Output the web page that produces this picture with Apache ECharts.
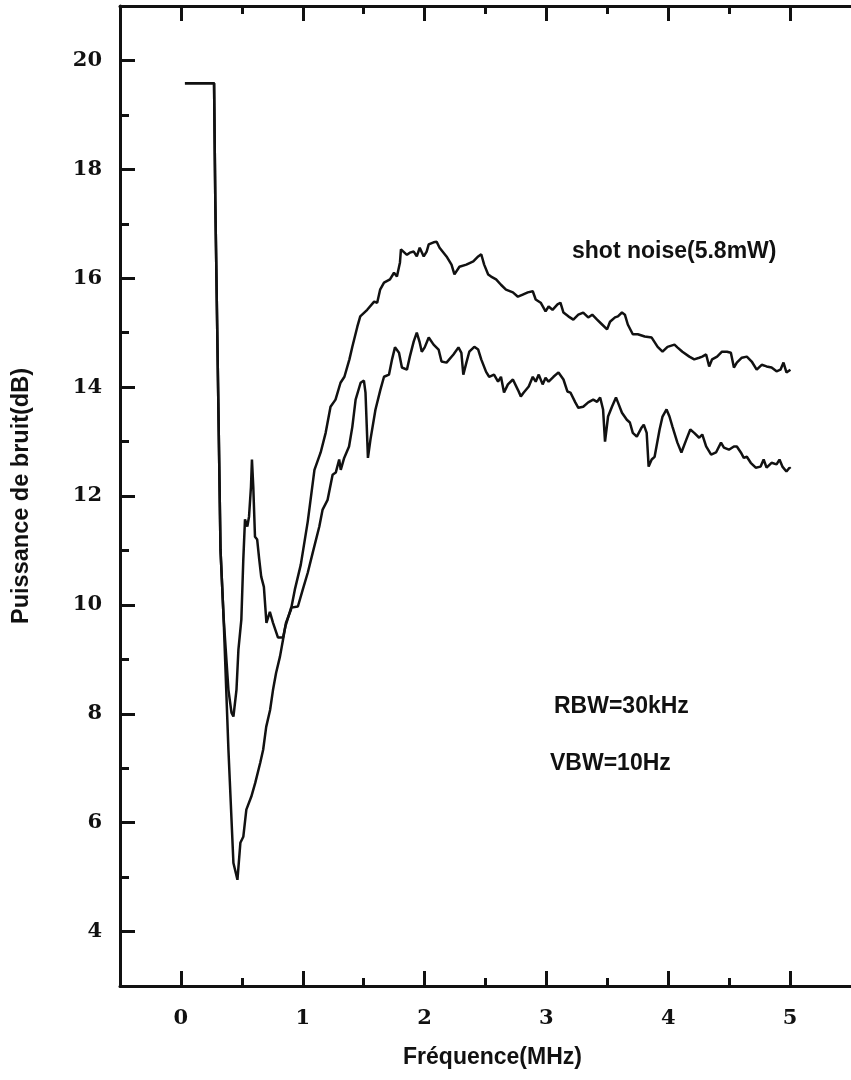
<!DOCTYPE html>
<html>
<head>
<meta charset="utf-8">
<script src="https://cdn.jsdelivr.net/npm/echarts@6/dist/echarts.min.js"></script>
<style>
  html, body { margin: 0; padding: 0; background: #fff; }
  #chart { width: 851px; height: 1080px; }
</style>
</head>
<body>
<div id="chart"></div>
<script>
// Tick positions
const xMajorTicks = [0, 1, 2, 3, 4, 5];
const xMinorTicks = [0.5, 1.5, 2.5, 3.5, 4.5];
const yMajorTicks = [4, 6, 8, 10, 12, 14, 16, 18, 20];
const yMinorTicks = [5, 7, 9, 11, 13, 15, 17, 19];

// Shot noise reference trace (MHz, dB)
const shotFreq = [0.033, 0.272, 0.282, 0.325, 0.350, 0.390, 0.431, 0.464, 0.488, 0.512, 0.537, 0.578, 0.610, 0.651, 0.675, 0.700, 0.732, 0.756, 0.781, 0.813, 0.838, 0.862, 0.903, 0.935, 0.984, 1.041, 1.096, 1.147, 1.188, 1.228, 1.269, 1.310, 1.342, 1.383, 1.407, 1.448, 1.472, 1.529, 1.586, 1.611, 1.635, 1.667, 1.716, 1.749, 1.773, 1.798, 1.806, 1.855, 1.879, 1.911, 1.936, 1.960, 1.993, 2.017, 2.034, 2.074, 2.099, 2.123, 2.180, 2.221, 2.245, 2.286, 2.343, 2.400, 2.440, 2.465, 2.489, 2.522, 2.546, 2.587, 2.627, 2.668, 2.725, 2.766, 2.806, 2.847, 2.888, 2.912, 2.953, 2.993, 3.018, 3.050, 3.091, 3.115, 3.140, 3.180, 3.221, 3.262, 3.302, 3.343, 3.376, 3.416, 3.457, 3.498, 3.522, 3.563, 3.587, 3.620, 3.644, 3.668, 3.709, 3.750, 3.807, 3.864, 3.913, 3.953, 3.994, 4.051, 4.075, 4.116, 4.173, 4.213, 4.254, 4.279, 4.311, 4.336, 4.360, 4.401, 4.441, 4.482, 4.514, 4.539, 4.563, 4.604, 4.645, 4.685, 4.726, 4.767, 4.807, 4.848, 4.889, 4.921, 4.946, 4.970, 5.003];
const shotLevel = [19.58, 19.58, 17.45, 11.01, 9.78, 7.34, 5.26, 4.95, 5.63, 5.74, 6.24, 6.48, 6.73, 7.10, 7.34, 7.76, 8.07, 8.44, 8.75, 9.05, 9.36, 9.67, 9.91, 10.28, 10.74, 11.53, 12.48, 12.80, 13.16, 13.64, 13.77, 14.08, 14.19, 14.51, 14.74, 15.11, 15.30, 15.42, 15.57, 15.55, 15.79, 15.92, 15.98, 16.10, 16.03, 16.29, 16.53, 16.43, 16.47, 16.49, 16.40, 16.56, 16.40, 16.49, 16.62, 16.66, 16.67, 16.56, 16.40, 16.25, 16.07, 16.21, 16.25, 16.31, 16.40, 16.44, 16.25, 16.07, 16.03, 15.98, 15.88, 15.79, 15.74, 15.66, 15.70, 15.74, 15.76, 15.61, 15.55, 15.39, 15.48, 15.42, 15.52, 15.55, 15.37, 15.30, 15.24, 15.33, 15.37, 15.28, 15.33, 15.24, 15.15, 15.06, 15.20, 15.28, 15.30, 15.37, 15.33, 15.15, 14.97, 14.97, 14.93, 14.91, 14.74, 14.65, 14.74, 14.78, 14.73, 14.65, 14.56, 14.51, 14.54, 14.56, 14.60, 14.38, 14.51, 14.56, 14.65, 14.65, 14.63, 14.36, 14.45, 14.54, 14.56, 14.47, 14.32, 14.41, 14.38, 14.36, 14.29, 14.32, 14.45, 14.27, 14.32];

// Measured noise trace (MHz, dB)
const noiseFreq = [0.033, 0.272, 0.282, 0.325, 0.350, 0.390, 0.415, 0.431, 0.456, 0.472, 0.480, 0.496, 0.512, 0.526, 0.545, 0.559, 0.575, 0.583, 0.594, 0.608, 0.626, 0.643, 0.659, 0.681, 0.702, 0.730, 0.756, 0.797, 0.838, 0.857, 0.905, 0.960, 1.000, 1.041, 1.082, 1.136, 1.163, 1.204, 1.245, 1.271, 1.299, 1.312, 1.340, 1.380, 1.407, 1.434, 1.475, 1.502, 1.515, 1.535, 1.556, 1.597, 1.637, 1.667, 1.708, 1.733, 1.757, 1.790, 1.814, 1.855, 1.879, 1.911, 1.936, 1.960, 1.977, 2.001, 2.034, 2.074, 2.115, 2.139, 2.180, 2.237, 2.278, 2.302, 2.318, 2.343, 2.367, 2.408, 2.440, 2.465, 2.505, 2.530, 2.570, 2.603, 2.627, 2.652, 2.684, 2.725, 2.766, 2.790, 2.814, 2.855, 2.888, 2.912, 2.937, 2.969, 2.993, 3.018, 3.058, 3.099, 3.140, 3.172, 3.197, 3.237, 3.262, 3.302, 3.343, 3.384, 3.416, 3.441, 3.465, 3.481, 3.506, 3.538, 3.571, 3.587, 3.620, 3.660, 3.685, 3.709, 3.742, 3.782, 3.799, 3.823, 3.839, 3.864, 3.888, 3.929, 3.953, 3.986, 4.010, 4.035, 4.075, 4.108, 4.149, 4.181, 4.213, 4.254, 4.279, 4.311, 4.352, 4.392, 4.433, 4.457, 4.498, 4.539, 4.563, 4.596, 4.620, 4.645, 4.677, 4.718, 4.758, 4.783, 4.807, 4.848, 4.889, 4.913, 4.937, 4.970, 4.995, 5.003];
const noiseLevel = [19.58, 19.58, 17.45, 11.01, 9.78, 8.44, 8.02, 7.95, 8.44, 9.18, 9.36, 9.73, 10.83, 11.57, 11.44, 11.62, 12.17, 12.67, 12.17, 11.25, 11.20, 10.83, 10.52, 10.33, 9.67, 9.87, 9.67, 9.40, 9.40, 9.60, 9.95, 9.97, 10.28, 10.59, 10.96, 11.44, 11.75, 11.93, 12.39, 12.43, 12.67, 12.48, 12.70, 12.91, 13.27, 13.77, 14.08, 14.12, 13.90, 12.70, 13.04, 13.59, 13.95, 14.19, 14.23, 14.51, 14.73, 14.63, 14.36, 14.32, 14.56, 14.84, 15.00, 14.82, 14.65, 14.73, 14.91, 14.78, 14.69, 14.47, 14.45, 14.60, 14.73, 14.63, 14.23, 14.45, 14.65, 14.74, 14.69, 14.51, 14.28, 14.19, 14.23, 14.10, 14.19, 13.90, 14.05, 14.14, 13.95, 13.83, 13.90, 14.01, 14.19, 14.10, 14.23, 14.05, 14.17, 14.10, 14.19, 14.27, 14.14, 13.92, 13.90, 13.72, 13.62, 13.64, 13.72, 13.77, 13.73, 13.81, 13.59, 13.00, 13.46, 13.64, 13.81, 13.72, 13.53, 13.40, 13.35, 13.16, 13.09, 13.26, 13.31, 13.16, 12.54, 12.67, 12.72, 13.22, 13.46, 13.59, 13.46, 13.27, 12.98, 12.80, 13.04, 13.22, 13.16, 13.07, 13.13, 12.91, 12.76, 12.80, 12.98, 12.89, 12.85, 12.91, 12.91, 12.80, 12.70, 12.72, 12.61, 12.52, 12.54, 12.67, 12.52, 12.61, 12.58, 12.67, 12.54, 12.45, 12.52, 12.50];

const zip = (xs, ys) => xs.map((x, i) => [x, ys[i]]);

const chart = echarts.init(document.getElementById('chart'), null, { renderer: 'canvas' });

const black = '#111';
const tickFont = { fontFamily: 'DejaVu Serif', fontWeight: 'bold', fontSize: 21, color: black };
const sansFont = 'Liberation Sans, Arial, sans-serif';

function xAx(opts) {
  return Object.assign({
    type: 'value', min: -0.5, max: 5.5,
    axisLine: { show: false, onZero: false, lineStyle: { color: black, width: 3 } },
    axisTick: { show: false },
    axisLabel: { show: false },
    splitLine: { show: false }
  }, opts);
}
function yAx(opts) {
  return Object.assign({
    type: 'value', min: 3, max: 21,
    axisLine: { show: false, onZero: false, lineStyle: { color: black, width: 3 } },
    axisTick: { show: false },
    axisLabel: { show: false },
    splitLine: { show: false }
  }, opts);
}

chart.setOption({
  backgroundColor: '#fff',
  animation: false,
  grid: { left: 120, top: 6, width: 738, height: 980, containLabel: false },
  xAxis: [
    xAx({
      position: 'bottom',
      axisLine: { show: true, onZero: false, lineStyle: { color: black, width: 3 } },
      axisTick: { show: true, inside: true, length: 15, lineStyle: { color: black, width: 3 }, customValues: xMajorTicks },
      axisLabel: Object.assign({ show: true, margin: 22, customValues: xMajorTicks }, tickFont),
      name: 'Fréquence(MHz)', nameLocation: 'middle', nameGap: 60,
      nameTextStyle: { fontFamily: sansFont, fontWeight: 'bold', fontSize: 23, color: black, padding: [0, 0, 0, 14] }
    }),
    xAx({
      position: 'bottom',
      axisTick: { show: true, inside: true, length: 8, lineStyle: { color: black, width: 3 }, customValues: xMinorTicks }
    }),
    xAx({
      position: 'top',
      axisLine: { show: true, onZero: false, lineStyle: { color: black, width: 3 } },
      axisTick: { show: true, inside: true, length: 15, lineStyle: { color: black, width: 3 }, customValues: xMajorTicks }
    }),
    xAx({
      position: 'top',
      axisTick: { show: true, inside: true, length: 8, lineStyle: { color: black, width: 3 }, customValues: xMinorTicks }
    })
  ],
  yAxis: [
    yAx({
      position: 'left',
      axisLine: { show: true, onZero: false, lineStyle: { color: black, width: 3 } },
      axisTick: { show: true, inside: true, length: 15, lineStyle: { color: black, width: 3 }, customValues: yMajorTicks },
      axisLabel: Object.assign({ show: true, margin: 18, customValues: yMajorTicks }, tickFont),
      name: 'Puissance de bruit(dB)', nameLocation: 'middle', nameGap: 86, nameRotate: 90,
      nameTextStyle: { fontFamily: sansFont, fontWeight: 'bold', fontSize: 23.5, color: black }
    }),
    yAx({
      position: 'left',
      axisTick: { show: true, inside: true, length: 9, lineStyle: { color: black, width: 3 }, customValues: yMinorTicks }
    })
  ],
  series: [
    {
      name: 'shot noise(5.8mW)', type: 'line', xAxisIndex: 0, yAxisIndex: 0,
      data: zip(shotFreq, shotLevel), showSymbol: false, symbol: 'none',
      lineStyle: { color: black, width: 2.5 }, z: 3
    },
    {
      name: 'bruit', type: 'line', xAxisIndex: 0, yAxisIndex: 0,
      data: zip(noiseFreq, noiseLevel), showSymbol: false, symbol: 'none',
      lineStyle: { color: black, width: 2.5 }, z: 3
    }
  ],
  graphic: [
    { type: 'text', left: 572, top: 240, style: { text: 'shot noise(5.8mW)', font: 'bold 23px ' + sansFont, fill: black } },
    { type: 'text', left: 554, top: 695, style: { text: 'RBW=30kHz', font: 'bold 23px ' + sansFont, fill: black } },
    { type: 'text', left: 550, top: 752, style: { text: 'VBW=10Hz', font: 'bold 23px ' + sansFont, fill: black } }
  ]
});
</script>
</body>
</html>
